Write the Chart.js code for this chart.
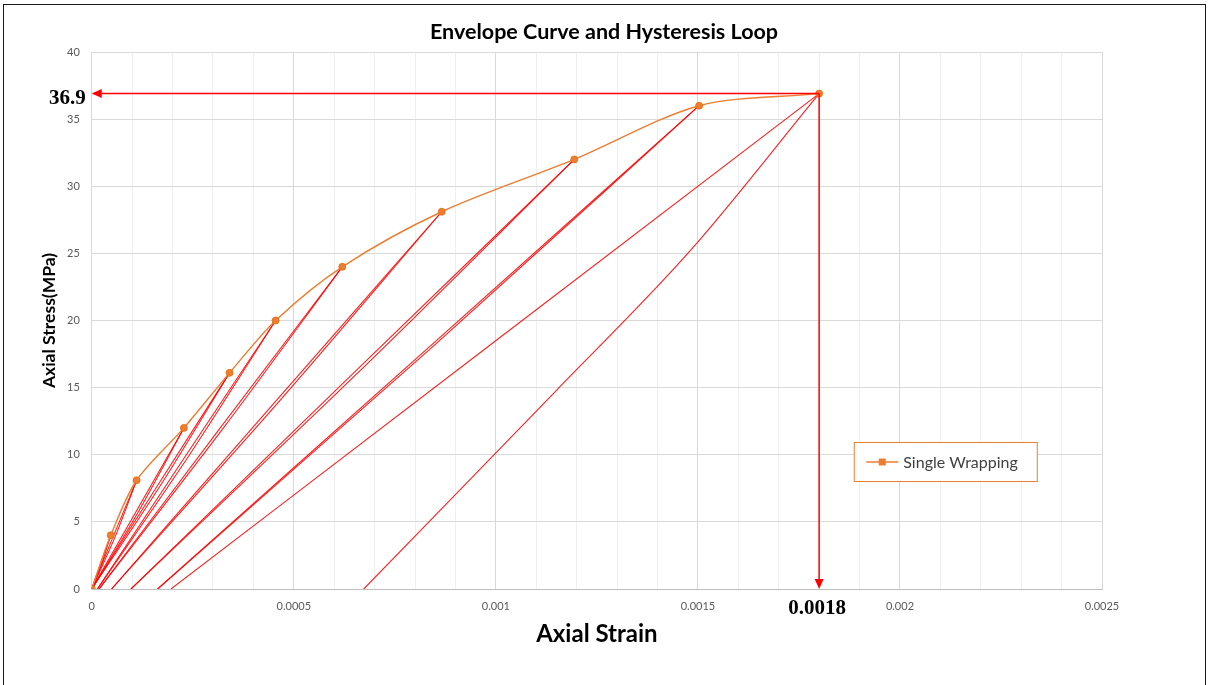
<!DOCTYPE html>
<html>
<head>
<meta charset="utf-8">
<title>Envelope Curve and Hysteresis Loop</title>
<script src="https://cdn.jsdelivr.net/npm/chart.js@4.4.1/dist/chart.umd.min.js"></script>
<style>
    html, body { margin: 0; padding: 0; background: #fff; }
    #wrap { position: relative; width: 1208px; height: 685px; overflow: hidden; }
    #frame { position: absolute; left: 3px; top: 4px; width: 1203px; height: 700px; box-sizing: border-box; border: 1.5px solid #1a1a1a; pointer-events: none; }
    canvas { position: absolute; left: 0; top: 0; }
</style>
</head>
<body>
<div id="wrap">
    <canvas id="hysteresisChart" width="1208" height="685"></canvas>
    <div id="frame"></div>
</div>
<script>
    const chartTitle = 'Envelope Curve and Hysteresis Loop';

    // envelope points (axial strain / axial stress, MPa)
    const envStrain = [0, 0.000047, 0.000111, 0.000228, 0.000341, 0.000455, 0.00062, 0.000866, 0.001194, 0.001503, 0.0018];
    const envStress = [0, 4, 8.1, 12, 16.1, 20, 24, 28.1, 32, 36, 36.9];

    // one loop per envelope peak (peaks 1..10): residual strain at zero stress
    const loopResidual = [0, 0, 0, 0, 0.000014, 0.000018, 0.000049, 0.000097, 0.000163, 0.000196];
    // strain of the reloading branch at half the peak stress
    const reloadMidStrain = [0.000023, 0.000055, 0.000114, 0.00017, 0.000234, 0.000318, 0.000457, 0.000645, 0.000834, 0.000998];
    // strain of the unloading branch at half the peak stress (last cycle uses finalUnload below)
    const unloadMidStrain = [0.000026, 0.00006, 0.00012, 0.000177, 0.000242, 0.000326, 0.000466, 0.000655, 0.000842];

    // last unloading curve, from the large residual strain up to the peak
    const finalUnloadStrain = [0.000673, 0.00115, 0.001481, 0.0018];
    const finalUnloadStress = [0, 14.8, 25.2, 36.9];

    // marked peak
    const markStrain = 0.0018;
    const markStress = 36.9;

    const orange = '#ED7D31';
    const red = 'rgba(255, 0, 0, 0.88)';

    Chart.defaults.font.family = 'Lato, "Open Sans", sans-serif';
    Chart.defaults.color = '#595959';

    function redLine(points) {
        return {
            label: '',
            data: points,
            borderColor: red,
            borderWidth: 1.1,
            pointRadius: 0,
            showLine: true,
            fill: false,
            cubicInterpolationMode: 'monotone'
        };
    }

    const datasets = [{
        label: 'Single Wrapping',
        data: envStrain.map((e, i) => ({x: e, y: envStress[i]})),
        borderColor: orange,
        backgroundColor: orange,
        borderWidth: 1.4,
        pointRadius: 3.5,
        pointBorderColor: '#E46C0A',
        pointBorderWidth: 0.8,
        showLine: true,
        fill: false,
        tension: 0.3
    }];

    loopResidual.forEach((r, i) => {
        const pe = envStrain[i + 1];
        const ps = envStress[i + 1];
        // reloading branch
        datasets.push(redLine([{x: r, y: 0}, {x: reloadMidStrain[i], y: ps / 2}, {x: pe, y: ps}]));
        // unloading branch
        if (i < unloadMidStrain.length) {
            datasets.push(redLine([{x: r, y: 0}, {x: unloadMidStrain[i], y: ps / 2}, {x: pe, y: ps}]));
        }
    });
    datasets.push(redLine(finalUnloadStrain.map((e, i) => ({x: e, y: finalUnloadStress[i]}))));

    // title centred on the whole canvas
    const pageTitle = {
        id: 'pageTitle',
        afterDraw(chart) {
            const {ctx, width} = chart;
            ctx.save();
            ctx.fillStyle = '#000';
            ctx.font = 'bold 21.5px Lato, "Open Sans", sans-serif';
            ctx.textAlign = 'center';
            ctx.textBaseline = 'middle';
            ctx.fillText(chartTitle, width / 2, 32);
            ctx.restore();
        }
    };

    // arrows and bold labels for the marked peak
    const peakMarks = {
        id: 'peakMarks',
        afterDatasetsDraw(chart) {
            const {ctx, scales: {x, y}} = chart;
            const px = x.getPixelForValue(markStrain);
            const py = y.getPixelForValue(markStress);
            const x0 = x.getPixelForValue(0);
            const y0 = y.getPixelForValue(0);
            ctx.save();
            ctx.strokeStyle = '#ff0000';
            ctx.fillStyle = '#ff0000';
            ctx.lineWidth = 1.5;
            ctx.beginPath();
            ctx.moveTo(px, py);
            ctx.lineTo(x0 + 8, py);
            ctx.moveTo(px, py);
            ctx.lineTo(px, y0 - 8);
            ctx.stroke();
            ctx.beginPath();
            ctx.moveTo(x0, py);
            ctx.lineTo(x0 + 10, py - 4.5);
            ctx.lineTo(x0 + 10, py + 4.5);
            ctx.closePath();
            ctx.fill();
            ctx.beginPath();
            ctx.moveTo(px, y0);
            ctx.lineTo(px - 4.5, y0 - 10);
            ctx.lineTo(px + 4.5, y0 - 10);
            ctx.closePath();
            ctx.fill();

            ctx.fillStyle = '#000';
            ctx.font = 'bold 21px "Liberation Serif", "DejaVu Serif", serif';
            ctx.textAlign = 'right';
            ctx.textBaseline = 'middle';
            ctx.fillText(markStress.toFixed(1), x0 - 6, py + 5);
            ctx.textAlign = 'center';
            ctx.textBaseline = 'top';
            ctx.fillText(String(markStrain), px - 2, y0 + 9);
            ctx.restore();
        }
    };

    // boxed legend inside the plot area
    const boxedLegend = {
        id: 'boxedLegend',
        afterDraw(chart) {
            const {ctx, chartArea: a} = chart;
            const ds = chart.data.datasets[0];
            const bx = a.left + 762.5, by = a.top + 390.5, bw = 183, bh = 39;
            ctx.save();
            ctx.fillStyle = '#fff';
            ctx.fillRect(bx, by, bw, bh);
            ctx.strokeStyle = ds.borderColor;
            ctx.lineWidth = 1;
            ctx.strokeRect(bx, by, bw, bh);
            const my = by + bh / 2;
            ctx.lineWidth = 1.5;
            ctx.beginPath();
            ctx.moveTo(bx + 12, my);
            ctx.lineTo(bx + 44, my);
            ctx.stroke();
            ctx.fillStyle = ds.backgroundColor;
            ctx.fillRect(bx + 24.5, my - 3.5, 7, 7);
            ctx.fillStyle = '#404040';
            ctx.font = '16px Lato, "Open Sans", sans-serif';
            ctx.textAlign = 'left';
            ctx.textBaseline = 'middle';
            ctx.fillText(ds.label, bx + 49, my + 1);
            ctx.restore();
        }
    };

    const isMajor = v => Math.round(v * 10000) % 5 === 0;

    const ctx = document.getElementById('hysteresisChart').getContext('2d');
    const chart = new Chart(ctx, {
        type: 'scatter',
        data: {datasets: datasets},
        options: {
            responsive: false,
            animation: false,
            events: [],
            layout: {
                padding: {top: 52, left: 19, right: 106, bottom: 33}
            },
            plugins: {
                legend: {display: false},
                tooltip: {enabled: false},
                title: {display: false}
            },
            scales: {
                x: {
                    type: 'linear',
                    min: 0,
                    max: 0.0025,
                    grid: {
                        drawTicks: false,
                        color: c => (c.tick && isMajor(c.tick.value)) ? '#d9d9d9' : '#efefef'
                    },
                    border: {color: '#bfbfbf'},
                    ticks: {
                        stepSize: 0.0001,
                        autoSkip: false,
                        maxRotation: 0,
                        minRotation: 0,
                        padding: 11,
                        font: {size: 11},
                        callback: v => isMajor(v) ? String(parseFloat(v.toFixed(4))) : ''
                    },
                    title: {
                        display: true,
                        text: 'Axial Strain',
                        color: '#000',
                        font: {size: 24, weight: 'bold'},
                        padding: {top: -4, bottom: 3}
                    }
                },
                y: {
                    min: 0,
                    max: 40,
                    grid: {drawTicks: false, color: '#d9d9d9'},
                    border: {color: '#d9d9d9'},
                    ticks: {
                        stepSize: 5,
                        padding: 12,
                        font: {size: 11}
                    },
                    title: {
                        display: true,
                        text: 'Axial Stress(MPa)',
                        color: '#000',
                        font: {size: 17.5, weight: 'bold'},
                        padding: {top: 20, bottom: -5}
                    }
                }
            }
        },
        plugins: [peakMarks, boxedLegend, pageTitle]
    });
</script>
</body>
</html>
